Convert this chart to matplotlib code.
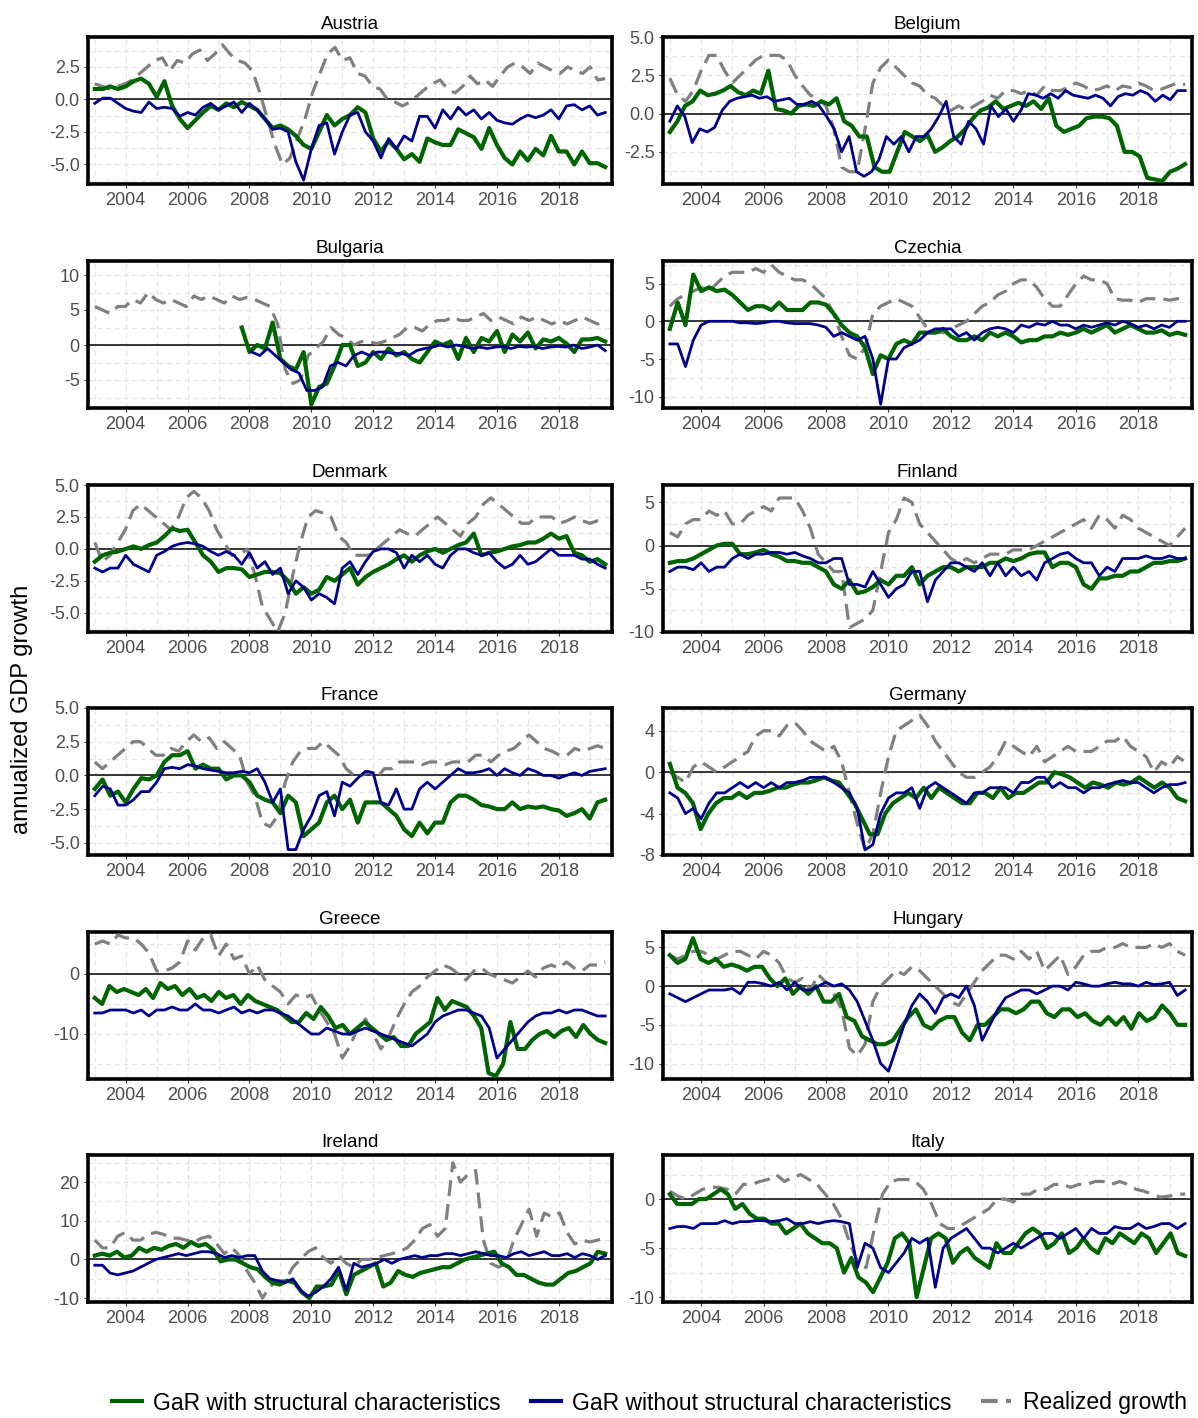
import numpy as np
import matplotlib
matplotlib.use("Agg")
import matplotlib.pyplot as plt
from matplotlib.ticker import AutoMinorLocator, FormatStrFormatter
from matplotlib.lines import Line2D

plt.rcParams['font.family'] = ['Liberation Sans', 'DejaVu Sans']

countries = ["Austria", "Belgium", "Bulgaria", "Czechia", "Denmark", "Finland",
             "France", "Germany", "Greece", "Hungary", "Ireland", "Italy"]

# quarterly estimates, 2003Q1 .. 2019Q3
gar_struct = {
    "Austria": [0.8,0.8,1.0,0.8,1.0,1.4,1.6,1.2,0.2,1.4,-0.5,-1.5,-2.2,-1.6,-1.0,-0.5,-0.8,-0.3,-0.6,-0.2,-0.5,-0.8,-1.5,-2.2,-2.0,-2.3,-2.8,-3.5,-3.8,-2.5,-1.2,-2.0,-1.5,-1.2,-0.6,-1.0,-3.0,-4.0,-3.2,-3.8,-4.6,-4.2,-4.8,-3.0,-3.3,-3.5,-3.5,-2.3,-2.6,-2.9,-3.8,-2.2,-3.5,-4.5,-5.0,-4.0,-4.7,-3.8,-4.3,-2.8,-4.0,-4.0,-5.0,-4.0,-4.9,-4.9,-5.2],
    "Belgium": [-1.2,-0.5,0.5,0.8,1.5,1.2,1.3,1.5,1.8,1.4,1.2,1.5,1.3,2.8,0.3,0.2,0.0,0.5,0.6,0.5,0.8,0.6,1.0,-0.5,-0.8,-1.5,-1.5,-3.5,-3.8,-3.8,-2.5,-1.2,-1.5,-1.8,-1.4,-2.5,-2.2,-1.8,-1.5,-1.0,-0.3,0.2,0.4,0.8,0.3,0.5,0.7,0.5,0.8,0.3,1.0,-0.8,-1.2,-1.0,-0.8,-0.3,-0.2,-0.2,-0.3,-0.8,-2.5,-2.5,-2.8,-4.2,-4.3,-4.4,-3.8,-3.6,-3.3],
    "Bulgaria": [np.nan]*19 + [2.5,-1.0,0.0,-0.5,3.2,-2.0,-3.0,-3.5,-1.0,-8.5,-6.0,-5.5,-3.0,0.0,0.0,-3.0,-2.5,-1.0,-2.0,-0.5,-1.5,-1.0,-2.0,-2.5,-1.0,0.5,0.0,0.5,-2.0,1.0,-1.0,1.0,0.5,2.0,-1.0,1.5,0.5,1.8,-0.5,0.8,0.5,1.0,0.2,-1.0,0.8,0.8,1.0,0.5],
    "Czechia": [-1.0,2.5,-0.5,6.2,4.0,4.5,4.0,4.2,3.5,2.5,1.5,2.0,2.0,1.5,2.5,1.5,1.5,1.5,2.5,2.5,2.2,1.0,-0.5,-1.5,-2.0,-3.5,-7.0,-4.5,-5.0,-3.0,-2.5,-3.0,-1.5,-1.5,-1.5,-1.0,-2.0,-2.5,-2.5,-2.0,-2.5,-1.5,-2.0,-1.5,-2.0,-2.8,-2.5,-2.5,-2.0,-2.0,-1.5,-1.8,-1.5,-1.0,-1.5,-1.0,-0.5,-1.5,-1.0,-0.5,-1.0,-1.5,-1.5,-1.2,-1.8,-1.5,-1.8],
    "Denmark": [-1.0,-0.5,-0.3,-0.2,0.0,0.2,0.0,0.3,0.5,1.0,1.6,1.4,1.5,0.5,-0.5,-1.0,-1.8,-1.5,-1.5,-1.6,-2.2,-2.0,-1.8,-1.8,-1.9,-2.5,-3.5,-3.0,-3.5,-3.2,-2.2,-2.5,-2.0,-1.5,-2.8,-2.2,-1.8,-1.5,-1.2,-0.8,-0.5,-1.0,-0.5,-0.2,0.0,-0.3,0.0,0.3,0.5,1.2,-0.5,-0.3,-0.2,0.0,0.2,0.3,0.5,0.5,0.8,1.2,0.8,1.0,-0.3,-0.5,-1.0,-0.8,-1.2],
    "Finland": [-2.0,-1.8,-1.8,-1.5,-1.0,-0.5,0.0,0.2,0.2,-1.0,-1.0,-0.8,-0.5,-1.0,-1.3,-1.8,-1.8,-2.0,-2.0,-2.5,-3.0,-4.5,-5.0,-4.0,-5.5,-5.3,-4.8,-4.0,-4.5,-3.5,-3.5,-2.5,-4.5,-3.5,-3.0,-2.5,-2.5,-3.0,-2.5,-2.5,-2.5,-2.0,-2.0,-1.5,-1.8,-1.5,-1.0,-0.8,-0.8,-2.5,-2.0,-2.0,-2.5,-4.5,-5.0,-3.8,-3.8,-3.5,-3.5,-3.0,-3.0,-2.5,-2.0,-2.0,-1.8,-1.8,-1.5],
    "France": [-1.0,-0.3,-1.5,-1.2,-2.0,-1.0,-0.2,-0.3,0.0,1.0,1.5,1.5,1.8,0.5,0.8,0.5,0.5,-0.3,0.0,0.0,-0.5,-1.5,-1.8,-2.0,-2.8,-1.5,-2.0,-4.5,-4.0,-3.5,-2.0,-1.5,-2.5,-1.8,-3.5,-2.0,-2.0,-2.0,-2.5,-3.0,-4.0,-4.5,-3.5,-4.3,-3.5,-3.5,-2.0,-1.5,-1.5,-1.8,-2.2,-2.3,-2.5,-2.5,-2.0,-2.5,-2.3,-2.4,-2.3,-2.5,-2.6,-3.0,-2.8,-2.5,-3.2,-2.0,-1.8],
    "Germany": [0.8,-1.5,-2.0,-3.0,-5.5,-4.0,-3.0,-2.5,-2.5,-2.0,-2.5,-2.0,-2.0,-1.8,-1.5,-1.5,-1.2,-1.0,-1.0,-0.8,-0.5,-0.8,-1.0,-2.0,-3.0,-4.5,-6.0,-6.0,-4.0,-3.0,-2.5,-2.0,-2.5,-1.5,-2.5,-1.5,-2.0,-2.5,-3.0,-3.0,-2.0,-2.0,-2.5,-1.5,-2.5,-2.0,-2.0,-1.5,-1.0,-1.0,0.0,-0.2,-0.5,-1.0,-1.5,-1.0,-1.2,-1.5,-1.0,-1.2,-1.0,-0.5,-1.0,-1.5,-1.0,-1.5,-2.5,-2.8],
    "Greece": [-4.0,-5.0,-2.0,-3.0,-2.5,-3.0,-3.5,-2.5,-4.0,-1.5,-2.5,-2.0,-3.5,-2.5,-4.0,-3.5,-4.5,-3.0,-4.0,-3.5,-5.0,-3.5,-4.5,-5.0,-5.5,-6.0,-7.0,-8.0,-8.0,-6.5,-7.5,-5.5,-7.0,-9.0,-8.5,-10.0,-9.0,-8.0,-9.0,-10.0,-11.0,-10.5,-12.0,-12.0,-10.0,-9.0,-8.0,-4.0,-6.0,-4.5,-5.0,-5.5,-7.0,-9.0,-16.5,-17.0,-15.0,-8.0,-12.5,-12.5,-11.0,-10.0,-9.5,-10.5,-9.5,-9.0,-10.5,-8.5,-10.0,-11.0,-11.5],
    "Hungary": [4.0,3.0,3.5,6.2,3.5,3.0,3.5,2.5,2.8,2.5,2.0,2.5,2.5,1.0,0.0,1.0,-1.0,0.0,-1.0,0.0,-2.0,-2.0,-1.0,-4.0,-4.5,-6.5,-7.0,-7.5,-7.5,-7.0,-5.5,-4.0,-3.0,-5.0,-5.5,-4.5,-4.0,-4.0,-6.0,-7.0,-5.0,-5.0,-4.0,-3.0,-3.0,-3.5,-3.0,-2.0,-2.0,-3.5,-4.0,-3.0,-3.0,-4.0,-3.5,-4.5,-5.0,-4.0,-5.0,-4.0,-5.5,-3.5,-4.5,-4.0,-2.5,-3.5,-5.0,-5.0],
    "Ireland": [1.0,1.5,1.0,2.0,0.5,1.0,3.0,2.0,3.0,2.5,3.5,4.0,3.0,4.5,3.5,4.0,2.5,-0.5,0.0,0.0,-1.0,-2.0,-2.5,-4.5,-6.0,-6.5,-5.5,-6.0,-8.5,-10.0,-7.0,-7.0,-6.5,-3.0,-9.0,-4.0,-3.0,-2.0,-1.0,-7.0,-6.0,-3.0,-4.0,-4.5,-3.5,-3.0,-2.5,-2.0,-2.0,-1.0,0.0,0.5,1.0,1.5,2.0,-1.0,-2.0,-4.0,-4.0,-5.0,-6.0,-6.5,-6.5,-5.0,-3.5,-3.0,-2.0,-1.0,2.0,1.5],
    "Italy": [0.5,-0.5,-0.5,-0.5,0.0,0.0,0.5,1.0,0.5,-1.0,-0.5,-1.5,-2.0,-2.0,-2.5,-2.5,-3.5,-3.0,-2.5,-3.5,-4.0,-4.5,-4.5,-5.0,-7.5,-6.0,-8.0,-8.5,-9.5,-8.0,-6.5,-4.0,-3.5,-4.5,-10.0,-7.0,-4.0,-3.5,-4.0,-6.5,-5.5,-5.0,-6.0,-6.5,-7.0,-4.5,-5.5,-5.5,-4.5,-3.5,-3.0,-3.5,-5.0,-4.5,-3.5,-5.5,-5.0,-4.0,-5.0,-5.5,-4.0,-4.5,-3.5,-4.0,-4.5,-3.5,-4.0,-5.5,-4.5,-3.5,-5.5,-5.8],
}

gar_plain = {
    "Austria": [-0.3,0.1,0.1,-0.3,-0.7,-0.9,-1.0,-0.2,-0.7,-0.6,-0.7,-1.3,-1.0,-1.2,-0.6,-0.3,-0.8,-0.5,-0.2,-1.0,-0.3,-0.8,-1.5,-2.3,-2.2,-2.5,-4.8,-6.2,-3.8,-2.0,-1.8,-4.2,-2.5,-1.2,-1.0,-2.5,-3.2,-4.5,-3.0,-3.8,-2.8,-3.2,-1.3,-1.3,-2.2,-0.8,-1.5,-0.6,-1.2,-0.8,-1.5,-1.0,-1.6,-1.8,-1.9,-1.5,-1.2,-1.4,-1.2,-0.8,-1.5,-0.5,-0.4,-0.8,-0.5,-1.2,-1.0],
    "Belgium": [-0.5,0.5,-0.2,-1.9,-1.0,-1.2,-0.9,0.2,0.8,1.0,1.1,1.2,1.0,1.1,0.8,0.9,1.0,0.6,0.6,0.8,0.5,-0.2,-1.0,-2.5,-1.5,-3.8,-4.1,-3.8,-3.0,-1.5,-2.0,-1.5,-2.5,-1.5,-1.5,-1.0,-0.2,0.8,-1.5,-2.0,-0.5,-1.0,-2.0,0.5,-0.2,0.3,-0.5,0.2,1.3,1.2,1.0,1.3,1.0,1.5,1.2,1.1,1.0,1.2,1.0,0.5,1.1,1.3,1.2,1.5,1.3,0.8,1.2,0.9,1.5,1.5],
    "Bulgaria": [np.nan]*20 + [-1.0,-1.5,-0.5,-1.5,-2.5,-3.5,-4.0,-6.5,-6.5,-6.0,-3.0,-2.5,-3.0,-1.5,-1.0,-1.5,-1.0,-1.0,-1.2,-1.2,-1.5,-0.8,-0.5,-0.3,0.0,-0.3,0.0,-0.2,-0.5,-0.3,-0.5,-0.3,-0.2,-0.5,-0.2,-0.3,-0.2,-0.5,-0.3,-0.2,-0.3,0.0,-0.5,-0.3,0.0,-0.8],
    "Czechia": [-3.0,-3.0,-6.0,-2.5,-0.5,0.0,0.0,0.0,0.0,-0.2,-0.2,-0.3,-0.2,0.0,0.0,-0.2,-0.3,-0.3,-0.3,-0.5,-0.8,-2.0,-1.5,-2.0,-2.5,-2.0,-5.0,-11.0,-5.0,-5.0,-3.5,-3.0,-2.5,-1.5,-1.0,-1.0,-1.0,-2.0,-1.5,-2.5,-1.5,-1.0,-0.8,-1.0,-1.5,-0.5,-0.8,-0.3,-0.5,0.0,-0.5,-0.5,-1.0,-0.5,-0.8,-0.5,-0.2,-0.5,0.0,-0.3,-0.8,-0.5,-1.0,-0.5,-0.8,0.0,0.0],
    "Denmark": [-1.5,-1.8,-1.5,-1.5,-0.5,-1.2,-1.5,-1.8,-0.5,-0.2,0.2,0.4,0.5,0.4,0.2,-0.2,-0.5,-0.2,-0.5,-1.2,-0.3,-1.5,-1.0,-2.0,-1.5,-3.5,-2.5,-3.0,-4.0,-3.5,-3.8,-4.3,-1.5,-1.0,-2.0,-1.0,-0.2,0.0,0.0,-0.3,-1.5,-0.5,-1.0,-0.5,-1.2,-1.5,-0.5,0.0,0.0,-0.3,-0.5,-0.3,-1.0,-1.5,-1.2,-0.5,-1.2,-1.0,-0.5,0.0,-0.5,-0.5,-0.5,-0.8,-0.8,-1.2,-1.5],
    "Finland": [-3.0,-2.5,-2.5,-2.8,-2.0,-3.0,-2.5,-2.5,-1.5,-1.0,-1.5,-1.0,-1.0,-0.8,-0.8,-1.0,-0.8,-1.2,-1.5,-2.0,-2.0,-1.5,-1.5,-4.5,-4.5,-4.8,-3.0,-4.5,-6.0,-5.0,-4.5,-3.0,-3.0,-6.5,-4.0,-3.0,-2.0,-2.0,-2.5,-3.0,-2.0,-3.5,-2.0,-3.5,-2.5,-3.5,-3.0,-4.0,-2.0,-1.5,-1.0,-0.8,-1.5,-2.0,-2.0,-3.5,-2.5,-3.0,-1.5,-1.5,-1.5,-1.2,-1.5,-1.5,-1.2,-1.5,-1.5],
    "France": [-1.5,-0.8,-1.0,-2.2,-2.2,-1.8,-1.2,-1.2,-0.5,0.5,0.6,0.5,0.8,0.7,0.5,0.4,0.3,0.2,0.2,0.3,0.2,0.5,-0.5,-2.0,-1.0,-5.5,-5.5,-4.0,-3.0,-1.5,-1.2,-3.0,-0.5,-0.8,-0.2,0.3,0.2,-2.0,-2.2,-1.0,-2.5,-2.5,-1.0,-0.5,-1.0,-0.5,0.0,0.5,0.2,0.2,0.3,0.5,0.0,0.5,0.2,0.0,0.5,0.3,0.0,0.0,-0.2,0.0,0.2,0.0,0.3,0.4,0.5],
    "Germany": [-2.0,-2.5,-4.0,-3.5,-4.5,-3.0,-2.0,-2.0,-1.5,-1.0,-1.5,-1.0,-1.5,-1.0,-1.5,-1.0,-1.0,-0.8,-0.5,-0.5,-0.5,-1.0,-1.5,-2.0,-3.5,-7.5,-7.0,-4.0,-2.5,-2.0,-2.0,-1.5,-3.5,-1.5,-1.0,-1.5,-2.0,-2.5,-3.0,-2.0,-2.0,-1.5,-1.5,-1.5,-2.0,-1.0,-1.0,-0.5,-0.5,-1.5,-1.0,-1.5,-1.5,-2.0,-1.5,-1.5,-1.2,-1.0,-0.8,-1.0,-1.0,-1.5,-2.0,-1.5,-1.2,-1.2,-1.0],
    "Greece": [-6.5,-6.5,-6.0,-6.0,-6.0,-6.5,-6.0,-7.0,-6.0,-6.0,-5.5,-6.0,-6.0,-5.0,-6.0,-6.0,-6.5,-6.0,-5.5,-6.5,-6.0,-6.5,-6.0,-6.0,-6.5,-7.0,-8.0,-9.0,-10.0,-10.0,-9.0,-9.5,-10.0,-10.0,-9.5,-9.0,-9.5,-10.0,-10.5,-11.0,-11.5,-12.0,-11.0,-10.0,-8.0,-7.0,-6.5,-6.0,-6.0,-6.5,-7.0,-9.0,-14.0,-12.5,-11.0,-9.5,-8.0,-7.0,-6.5,-6.5,-6.0,-6.5,-6.0,-6.0,-6.5,-7.0,-7.0],
    "Hungary": [-1.0,-1.5,-2.0,-1.5,-1.0,-0.5,-0.5,-0.5,-0.3,-1.0,0.5,0.5,0.3,0.0,0.5,-0.5,0.5,-0.5,-0.5,0.0,0.5,0.0,0.3,-0.5,-2.0,-4.5,-7.0,-10.0,-11.0,-8.0,-5.0,-2.5,-1.0,-2.0,-3.5,-1.5,-1.0,-1.5,0.0,-2.5,-7.0,-5.0,-3.0,-1.5,-1.0,-0.5,-0.5,-1.0,-0.5,0.0,0.0,-0.5,0.5,0.3,0.0,0.0,0.3,0.5,0.3,0.3,0.0,0.5,0.2,0.3,0.5,-1.2,-0.5],
    "Ireland": [-1.5,-1.5,-3.5,-4.0,-3.5,-3.0,-2.0,-1.0,0.0,0.5,1.0,1.5,1.0,1.5,2.0,2.0,1.5,0.5,1.0,0.5,1.0,1.0,-3.0,-5.0,-5.5,-6.0,-5.0,-8.0,-9.5,-8.5,-7.0,-5.0,-2.0,-8.0,-1.0,-2.0,-1.5,-1.0,0.0,-1.0,0.0,0.5,1.0,0.5,1.0,1.0,1.5,1.5,1.0,1.5,2.0,1.5,1.0,1.0,0.5,1.5,2.0,1.0,1.5,2.0,1.0,1.0,1.5,0.5,1.5,1.0,0.0,1.0],
    "Italy": [-3.0,-2.8,-2.8,-3.0,-2.5,-2.5,-2.5,-2.2,-2.5,-2.3,-2.3,-2.2,-2.2,-2.3,-2.2,-2.0,-2.5,-2.5,-2.3,-2.5,-2.3,-2.2,-2.3,-2.5,-7.0,-4.5,-5.0,-7.0,-7.5,-6.5,-5.5,-4.0,-4.5,-4.0,-9.0,-5.0,-4.0,-3.5,-3.0,-4.0,-5.0,-5.0,-5.5,-5.0,-4.5,-5.0,-4.5,-4.0,-3.5,-3.5,-4.0,-3.5,-3.0,-4.0,-3.0,-3.5,-3.5,-2.8,-3.0,-3.0,-2.5,-3.0,-2.8,-2.5,-2.5,-3.0,-2.5],
}

realized = {
    "Austria": [1.2,1.0,0.8,1.0,1.2,1.5,2.0,2.5,3.0,3.2,2.2,3.0,2.8,3.5,3.8,3.0,3.5,4.2,3.5,3.0,2.8,2.2,0.5,-1.5,-3.5,-5.0,-4.5,-3.0,-1.5,0.5,2.0,3.5,4.0,3.0,3.2,2.0,1.8,1.0,0.8,0.0,-0.2,-0.5,-0.2,0.3,0.8,1.2,1.5,0.8,0.5,1.0,1.8,1.2,1.5,1.0,1.8,2.5,2.8,2.5,2.0,2.8,2.5,2.2,2.0,2.5,2.2,2.0,2.5,1.5,1.6],
    "Belgium": [2.3,1.2,0.8,1.5,2.8,3.8,3.8,2.8,2.0,2.5,3.0,3.5,3.8,3.8,3.8,3.5,2.5,1.8,1.2,1.0,0.5,-1.0,-3.5,-3.8,-3.8,-1.0,2.0,3.0,3.5,3.0,2.5,2.0,1.8,1.2,1.0,0.5,0.2,0.5,0.2,0.5,0.8,1.2,1.0,1.5,1.5,1.3,1.5,1.2,1.8,1.5,1.5,1.7,2.0,1.8,1.5,1.6,1.8,1.5,1.8,1.7,2.0,1.8,1.5,1.6,1.8,2.0,1.9],
    "Bulgaria": [5.5,5.0,4.5,5.5,5.5,6.5,6.0,7.5,6.5,6.0,6.5,6.0,5.5,7.0,6.5,7.0,6.5,6.0,7.0,6.5,6.8,6.5,6.0,5.5,3.0,-3.5,-5.5,-5.0,-1.5,-0.5,0.5,2.5,1.5,1.0,0.0,0.5,0.5,0.2,0.5,1.0,1.5,2.5,2.5,2.0,3.0,3.5,3.5,4.0,3.5,3.5,4.0,4.5,3.5,4.0,3.5,3.0,4.0,3.5,4.0,3.5,3.0,3.5,3.0,3.5,4.0,3.5,3.0,3.5],
    "Czechia": [2.0,3.0,3.5,4.0,4.5,4.0,5.0,6.0,6.5,6.5,6.5,7.0,6.5,7.5,6.5,6.0,5.5,5.5,5.0,4.0,3.0,1.0,-2.0,-4.5,-5.0,-3.5,1.0,2.0,2.5,3.0,2.5,2.0,0.5,-1.0,-1.5,-1.5,-1.0,-0.5,0.0,1.0,2.0,2.5,3.5,4.0,5.0,5.5,5.5,4.5,3.0,2.0,2.0,3.5,5.0,6.0,5.5,5.5,5.0,3.0,2.8,2.8,2.5,3.0,3.0,3.0,2.8,3.0,3.0],
    "Denmark": [0.5,-1.0,-0.5,0.5,1.5,3.0,3.5,3.0,2.5,2.0,1.5,2.5,4.0,4.5,4.0,3.0,1.5,0.5,-0.5,-0.5,0.0,-2.0,-4.5,-5.5,-6.5,-5.0,-2.0,0.5,2.5,3.0,2.8,2.5,1.0,0.5,-0.5,-0.5,-0.5,0.0,0.5,1.0,1.5,1.2,1.0,1.5,2.0,2.5,2.0,1.5,1.0,2.0,2.5,3.5,4.0,3.5,3.0,2.5,2.0,2.0,2.5,2.5,2.5,2.0,2.2,2.5,2.2,2.0,2.2,2.0],
    "Finland": [1.5,1.0,2.5,3.0,3.0,4.0,3.5,4.0,2.5,2.5,3.5,4.0,4.5,4.0,5.5,5.5,5.5,4.0,2.0,-1.0,-2.0,-3.0,-3.0,-9.5,-9.0,-8.5,-7.5,-3.0,1.5,3.0,5.5,5.0,2.5,1.5,0.5,-0.5,-1.5,-2.0,-1.5,-2.0,-1.5,-1.0,-1.0,-1.0,-0.5,-0.5,-0.5,0.0,0.5,1.0,1.5,2.0,2.5,3.0,2.0,3.5,3.0,2.0,3.5,3.0,2.0,1.5,1.0,0.5,0.0,1.0,2.0],
    "France": [1.0,0.5,1.0,1.5,2.0,2.5,2.5,2.0,1.5,1.5,2.0,1.8,2.5,3.0,2.5,2.8,2.0,2.5,2.0,1.5,-0.5,-1.5,-3.5,-3.8,-3.0,-0.5,1.0,1.8,2.0,2.0,2.5,2.0,1.5,0.5,0.0,0.0,0.3,-0.2,0.5,0.5,1.0,1.0,1.0,0.8,1.0,1.0,0.8,1.0,1.0,1.0,1.5,1.5,1.0,1.5,1.8,2.0,2.5,3.0,2.5,2.0,1.8,1.5,1.5,2.0,1.8,2.0,2.2,2.0],
    "Germany": [0.0,-0.5,-1.0,0.5,1.0,0.5,0.0,0.5,1.0,1.5,2.0,3.5,4.0,4.0,3.5,4.5,4.8,4.0,3.0,2.5,2.0,2.5,1.0,-2.0,-5.0,-7.5,-6.0,-2.0,1.5,4.0,4.5,5.0,5.5,4.5,3.0,2.0,1.0,0.0,-0.5,-0.5,0.0,0.5,1.5,3.0,2.5,2.0,1.5,2.5,1.0,1.5,2.0,2.5,2.0,2.0,2.0,2.5,3.0,3.0,3.5,2.5,2.0,1.5,0.0,1.0,0.5,1.5,1.0],
    "Greece": [5.0,5.5,5.0,6.5,6.0,6.0,5.0,3.5,0.5,0.5,1.0,2.0,5.5,4.0,6.0,6.5,3.0,5.0,2.5,3.0,0.0,1.5,-1.0,-2.0,-3.0,-5.0,-3.5,-4.0,-3.5,-6.0,-8.0,-10.0,-14.0,-12.0,-9.0,-7.5,-10.0,-12.5,-10.5,-7.5,-5.0,-3.0,-2.0,-0.5,0.5,1.5,1.0,0.0,-1.0,0.5,1.0,0.0,-0.5,-1.0,-1.5,-0.5,0.5,-0.5,1.0,1.5,1.0,2.0,1.0,0.5,1.5,1.5,2.0],
    "Hungary": [4.0,3.5,4.0,4.5,4.5,4.0,3.5,4.0,4.5,4.5,4.0,3.5,4.5,4.0,3.0,1.0,0.5,1.0,-0.5,1.5,0.5,-1.0,-3.0,-8.0,-9.0,-7.5,-2.0,0.0,1.0,2.0,1.5,2.5,2.0,1.0,0.0,-1.0,-2.0,-2.5,-1.0,0.5,2.0,3.0,4.0,4.0,3.5,4.5,3.5,4.5,2.0,3.0,4.0,1.5,2.5,4.0,4.5,4.5,5.0,5.0,5.5,5.0,5.0,5.0,5.5,5.0,5.5,4.5,4.0],
    "Ireland": [5.0,3.0,3.0,6.0,7.0,5.0,5.0,6.5,7.0,6.5,5.5,5.5,5.0,4.5,5.5,6.0,4.0,1.5,3.0,1.0,-3.0,-6.0,-10.0,-7.0,-5.5,-5.5,-2.0,0.0,2.0,3.0,0.5,-1.0,1.0,-1.0,-2.0,0.0,0.0,0.5,1.0,1.5,2.0,3.0,5.0,8.0,9.0,6.0,8.0,25.0,20.0,22.0,23.0,5.0,-1.0,-2.0,-1.0,5.0,9.0,13.0,6.0,12.0,11.0,12.0,7.0,4.0,5.0,4.5,5.0,5.5],
    "Italy": [0.8,0.3,0.0,0.5,1.0,1.2,1.2,1.0,0.5,1.5,1.5,1.8,2.0,2.5,1.8,2.2,2.5,2.0,1.5,0.5,-0.5,-2.0,-4.5,-6.5,-7.0,-3.0,0.5,1.8,2.0,2.0,1.8,1.0,-0.5,-2.5,-3.0,-3.0,-2.5,-2.0,-1.5,-1.0,0.0,0.0,-0.3,0.5,0.5,1.0,1.0,1.5,1.5,1.2,1.5,1.5,1.8,1.8,1.5,1.8,1.5,1.0,0.8,0.5,0.2,0.3,0.5,0.5],
}

ylims = {"Austria": (-6.5, 4.8), "Belgium": (-4.6, 5.0), "Bulgaria": (-9, 12),
         "Czechia": (-11.5, 8), "Denmark": (-6.5, 5), "Finland": (-10, 7),
         "France": (-5.9, 5), "Germany": (-8, 6.2), "Greece": (-17.5, 7),
         "Hungary": (-12, 7), "Ireland": (-11, 27), "Italy": (-10.5, 4.5)}
yticks = {"Austria": [-5, -2.5, 0, 2.5], "Belgium": [-2.5, 0, 2.5, 5],
          "Bulgaria": [-5, 0, 5, 10], "Czechia": [-10, -5, 0, 5],
          "Denmark": [-5, -2.5, 0, 2.5, 5], "Finland": [-10, -5, 0, 5],
          "France": [-5, -2.5, 0, 2.5, 5], "Germany": [-8, -4, 0, 4],
          "Greece": [-10, 0], "Hungary": [-10, -5, 0, 5],
          "Ireland": [-10, 0, 10, 20], "Italy": [-10, -5, 0]}
year_ticks = list(range(2004, 2019, 2))

GREEN, NAVY, GREY = "#006400", "#00008B", "#808080"

W, H = 1198, 1418
fig = plt.figure(figsize=(W / 100, H / 100), dpi=100)
row_tops = [37, 261, 485, 708, 932, 1155]
cols = [(88, 612), (663, 1192)]
ax_h = 147


def quarters(vals):
    return np.linspace(2003.0, 2019.5, len(vals))


for i, name in enumerate(countries):
    r, c = divmod(i, 2)
    x0, x1 = cols[c]
    top = row_tops[r]
    ax = fig.add_axes([x0 / W, 1 - (top + ax_h) / H, (x1 - x0) / W, ax_h / H])
    ax.set_xlim(2002.78, 2019.72)
    ax.set_ylim(*ylims[name])
    ax.xaxis.set_minor_locator(AutoMinorLocator(2))
    ax.yaxis.set_minor_locator(AutoMinorLocator(2))
    ax.grid(True, which="both", color="#e5e5e5", linestyle=(0, (4, 3)), linewidth=0.9)
    ax.set_axisbelow(True)
    ax.axhline(0, color="black", linewidth=1.1, zorder=2)
    g = realized[name]
    ax.plot(quarters(g), g, color=GREY, lw=2.3, ls=(0, (5, 2.5)), zorder=3)
    s = gar_struct[name]
    ax.plot(quarters(s), s, color=GREEN, lw=3.0, zorder=4)
    p = gar_plain[name]
    ax.plot(quarters(p), p, color=NAVY, lw=2.0, zorder=5)
    ax.set_xticks(year_ticks)
    ax.set_xticklabels([str(y) for y in year_ticks])
    ax.set_yticks(yticks[name])
    if name in ("Austria", "Belgium", "Denmark", "France"):
        ax.yaxis.set_major_formatter(FormatStrFormatter("%.1f"))
    else:
        ax.yaxis.set_major_formatter(FormatStrFormatter("%d"))
    ax.tick_params(which="both", length=0, labelsize=13, colors="#4d4d4d", pad=3)
    ax.tick_params(which="major", length=3, color="#333333")
    for sp in ax.spines.values():
        sp.set_linewidth(2.6)
        sp.set_color("black")
    ax.set_title(name, fontsize=13.5, pad=6)

fig.text(22 / W, 0.5, "annualized GDP growth", rotation=90, fontsize=17,
         ha="center", va="center")

handles = [Line2D([], [], color=GREEN, lw=3),
           Line2D([], [], color=NAVY, lw=3),
           Line2D([], [], color=GREY, lw=3, ls=(0, (4, 2)))]
labels = ["GaR with structural characteristics",
          "GaR without structural characteristics", "Realized growth"]
fig.legend(handles, labels, loc="center", bbox_to_anchor=(0.542, 1 - 1403 / H),
           ncol=3, frameon=False, fontsize=16.5, handlelength=1.3,
           handletextpad=0.5, columnspacing=1.3)

fig.savefig("out.png", dpi=100)
